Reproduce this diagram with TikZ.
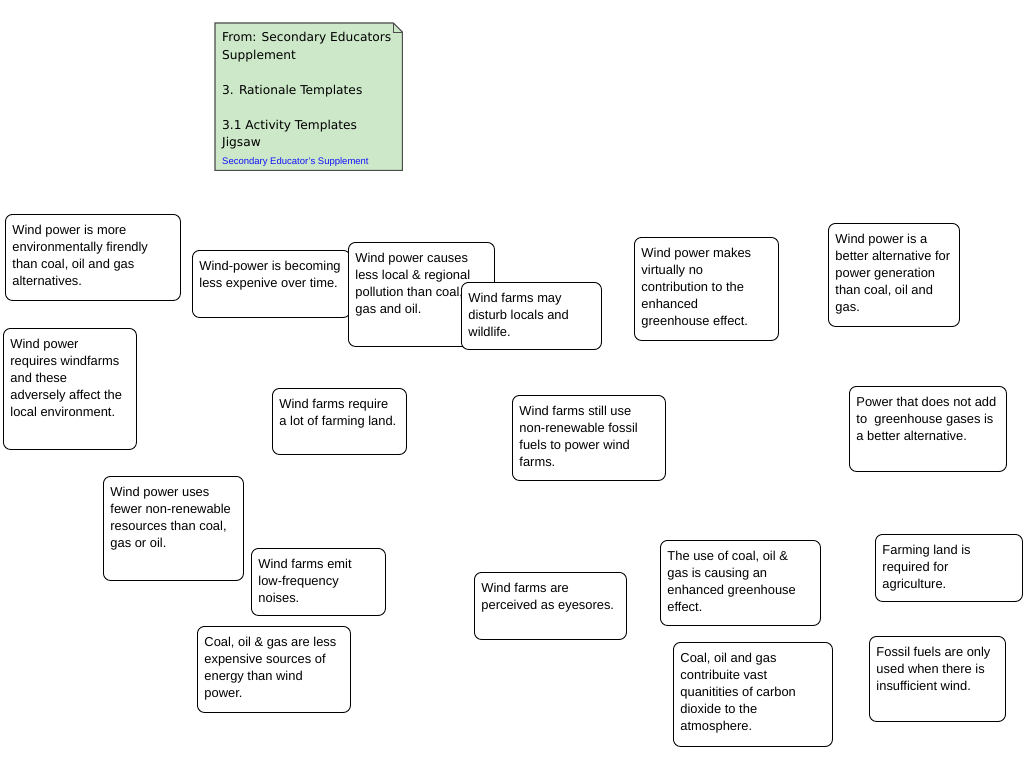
\documentclass[tikz,border=0pt]{standalone}
\usepackage{fontspec}
\setmainfont{Liberation Sans}
\newfontfamily\notefont{DejaVu Sans}
\usetikzlibrary{positioning}
\usetikzlibrary{backgrounds}
\definecolor{notegreen}{RGB}{204,232,200}
\definecolor{linkblue}{RGB}{20,20,250}
\newcommand{\cardtext}[3]{\parbox[t][#2pt][t]{#1pt}{\vspace*{1.5pt}\raggedright #3}}
\tikzset{
    cardbox/.style = {rectangle, draw=black, line width=0.9pt, rounded corners=7pt, fill=white, anchor=north west,
                      inner xsep=7pt, inner ysep=9pt, font=\fontsize{12.9}{17}\selectfont, text=black},
    notebox/.style = {rectangle, draw=none, anchor=north west, inner xsep=7pt, inner ysep=8pt,
                      font=\notefont\fontsize{12.2}{17.5}\selectfont, text=black},
    noteedge/.style = {draw=black!70, line width=1.1pt, fill=notegreen, line join=miter}
}
\begin{document}
\begin{tikzpicture}[x=1pt,y=-1pt]
\useasboundingbox (0,0) rectangle (1024,768);
%
\node[notebox] at (215,23) (src) {\cardtext{173}{131}{From: Secondary Educators\\ Supplement\\[17.5pt] 3. Rationale Templates\\[17.5pt] 3.1 Activity Templates\\ Jigsaw\\ {\fontfamily{\rmdefault}\fontsize{9.5}{17.5}\selectfont\color{linkblue}Secondary Educator's Supplement}}};
\begin{scope}[on background layer]
\draw[noteedge] (src.north west) -- ([xshift=-9pt]src.north east) -- ([yshift=-9pt]src.north east) -- (src.south east) -- (src.south west) -- cycle;
\draw[black!70, line width=0.8pt] ([xshift=-9pt]src.north east) -- ([xshift=-9pt,yshift=-9pt]src.north east) -- ([yshift=-9pt]src.north east);
\end{scope}
%
\node[cardbox] at (5,214) (envfriendly) {\cardtext{161}{68}{Wind power is more\\ environmentally firendly\\ than coal, oil and gas\\ alternatives.}};
\node[cardbox] at (192,250) (cheaper) {\cardtext{144}{49}{Wind-power is becoming\\ less expenive over time.}};
\node[cardbox] at (348,242) (lesspollution) {\cardtext{132}{86}{Wind power causes\\ less local \& regional\\ pollution than coal,\\ gas and oil.}};
\node[cardbox] at (461,282) (disturb) {\cardtext{126}{49}{Wind farms may\\ disturb locals and\\ wildlife.}};
\node[cardbox] at (634,237) (nocontrib) {\cardtext{130}{85}{Wind power makes\\ virtually no\\ contribution to the\\ enhanced\\ greenhouse effect.}};
\node[cardbox] at (828,223) (betteralt) {\cardtext{117}{85}{Wind power is a\\ better alternative for\\ power generation\\ than coal, oil and\\ gas.}};
\node[cardbox] at (3,328) (localenv) {\cardtext{119}{103}{Wind power\\ requires windfarms\\ and these\\ adversely affect the\\ local environment.}};
\node[cardbox] at (272,388) (farmland) {\cardtext{120}{48}{Wind farms require\\ a lot of farming land.}};
\node[cardbox] at (512,395) (fossiluse) {\cardtext{139}{67}{Wind farms still use\\ non-renewable fossil\\ fuels to power wind\\ farms.}};
\node[cardbox] at (849,386) (nogreenhouse) {\cardtext{143}{67}{Power that does not add\\ to\ \ greenhouse gases is\\ a better alternative.}};
\node[cardbox] at (103,476) (fewerres) {\cardtext{126}{86}{Wind power uses\\ fewer non-renewable\\ resources than coal,\\ gas or oil.}};
\node[cardbox] at (251,548) (noise) {\cardtext{120}{49}{Wind farms emit\\ low-frequency\\ noises.}};
\node[cardbox] at (197,626) (coalcheap) {\cardtext{139}{68}{Coal, oil \& gas are less\\ expensive sources of\\ energy than wind\\ power.}};
\node[cardbox] at (474,572) (eyesores) {\cardtext{138}{49}{Wind farms are\\ perceived as eyesores.}};
\node[cardbox] at (660,540) (coaleffect) {\cardtext{146}{67}{The use of coal, oil \&\\ gas is causing an\\ enhanced greenhouse\\ effect.}};
\node[cardbox] at (673,642) (carbon) {\cardtext{145}{86}{Coal, oil and gas\\ contribuite vast\\ quanitities of carbon\\ dioxide to the\\ atmosphere.}};
\node[cardbox] at (875,534) (agri) {\cardtext{133}{49}{Farming land is\\ required for\\ agriculture.}};
\node[cardbox] at (869,636) (nowind) {\cardtext{122}{67}{Fossil fuels are only\\ used when there is\\ insufficient wind.}};
%
\end{tikzpicture}
\end{document}
